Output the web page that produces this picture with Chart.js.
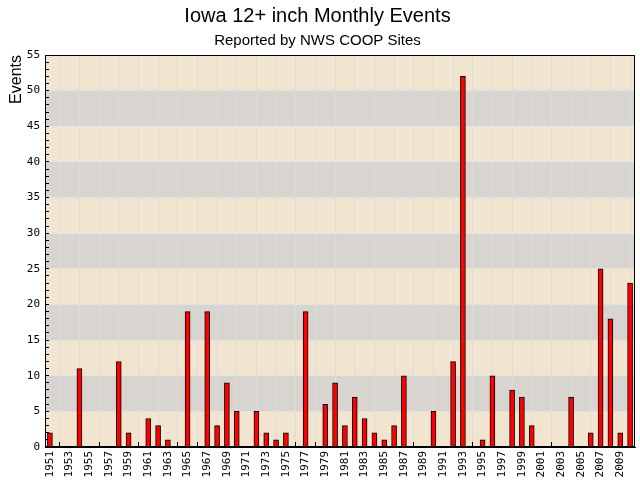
<!DOCTYPE html>
<html>
<head>
<meta charset="utf-8">
<script src="https://cdn.jsdelivr.net/npm/chart.js@4/dist/chart.umd.min.js"></script>
<style>
  body { margin: 0; background: #fff; }
</style>
</head>
<body>
<canvas id="chartEv" width="640" height="480"></canvas>
<script>
const years = ['1951','1952','1953','1954','1955','1956','1957','1958','1959','1960',
    '1961','1962','1963','1964','1965','1966','1967','1968','1969','1970',
    '1971','1972','1973','1974','1975','1976','1977','1978','1979','1980',
    '1981','1982','1983','1984','1985','1986','1987','1988','1989','1990',
    '1991','1992','1993','1994','1995','1996','1997','1998','1999','2000',
    '2001','2002','2003','2004','2005','2006','2007','2008','2009','2010'];
const events = [2,0,0,11,0,0,0,12,2,0,
    4,3,1,0,19,0,19,3,9,5,
    0,5,2,1,2,0,19,0,6,9,
    3,7,4,2,1,3,10,0,0,5,
    0,12,52,0,1,10,0,8,7,3,
    0,0,0,7,0,2,25,18,2,23];
const yMax = 55;
const bandStep = 5;

// beige / grey bands behind the plot, plus black frame
const bands = {
    id: 'bands',
    beforeDraw(chart) {
        const {ctx, chartArea: a, scales: {y}} = chart;
        ctx.save();
        ctx.fillStyle = '#f2e5d0';
        ctx.fillRect(a.left, a.top, a.right - a.left, a.bottom - a.top);
        ctx.fillStyle = '#d8d5d0';
        for (let v = bandStep; v < yMax; v += 2 * bandStep) {
            const top = y.getPixelForValue(v + bandStep);
            const bot = y.getPixelForValue(v);
            ctx.fillRect(a.left, top, a.right - a.left, bot - top);
        }
        ctx.restore();
    },
    afterDraw(chart) {
        const {ctx, chartArea: a} = chart;
        ctx.save();
        ctx.strokeStyle = '#000';
        ctx.lineWidth = 1;
        ctx.strokeRect(Math.round(a.left) + 0.5, Math.round(a.top) + 0.5,
            Math.round(a.right - a.left) - 1, Math.round(a.bottom - a.top) - 1);
        ctx.restore();
    }
};

const config = {
    type: 'bar',
    data: {
        labels: years,
        datasets: [{
            label: 'Events',
            data: events,
            backgroundColor: '#ff0000',
            borderColor: '#000000',
            borderWidth: 1,
            barThickness: 5,
            categoryPercentage: 1.0
        }]
    },
    options: {
        responsive: false,
        animation: false,
        layout: { padding: { left: 0, right: 5, top: 0, bottom: 0 } },
        plugins: {
            legend: { display: false },
            tooltip: { enabled: false },
            title: {
                display: true,
                text: 'Iowa 12+ inch Monthly Events',
                color: '#000',
                font: { family: 'Liberation Sans', size: 20, weight: 'normal' },
                padding: { top: 4, bottom: 4 }
            },
            subtitle: {
                display: true,
                text: 'Reported by NWS COOP Sites',
                color: '#000',
                font: { family: 'Liberation Sans', size: 15, weight: 'normal' },
                padding: { top: 0, bottom: 5 }
            }
        },
        scales: {
            x: {
                offset: true,
                afterFit(scale) {
                    scale.height = 33;
                    scale.paddingLeft = 0;
                    scale.paddingRight = 0;
                },
                border: { color: '#000', width: 1 },
                grid: {
                    offset: true,
                    color: '#dcdcdc',
                    tickColor: '#000',
                    tickLength: -5
                },
                ticks: {
                    autoSkip: false,
                    maxRotation: 90,
                    minRotation: 90,
                    padding: 9,
                    color: '#000',
                    font: { family: 'DejaVu Sans Mono', size: 11 },
                    callback(val, i) { return i % 2 === 0 ? this.getLabelForValue(val) : null; }
                }
            },
            y: {
                min: 0,
                max: yMax,
                afterFit(scale) { scale.width = 45; },
                border: { color: '#000', width: 1 },
                grid: {
                    color: ctx => (ctx.tick && ctx.tick.value % bandStep === 0) ? '#e2e2e2' : 'rgba(0,0,0,0)',
                    tickColor: '#000',
                    tickLength: -4
                },
                ticks: {
                    stepSize: 1,
                    autoSkip: false,
                    padding: 9,
                    color: '#000',
                    font: { family: 'DejaVu Sans Mono', size: 11 },
                    callback: v => v % bandStep === 0 ? String(v) : ''
                },
                title: {
                    display: true,
                    text: 'Events',
                    align: 'end',
                    color: '#000',
                    font: { family: 'Liberation Sans', size: 16 },
                    padding: { top: 7, bottom: 0 }
                }
            }
        }
    },
    plugins: [bands]
};

const evChart = new Chart(document.getElementById('chartEv'), config);
</script>
</body>
</html>
